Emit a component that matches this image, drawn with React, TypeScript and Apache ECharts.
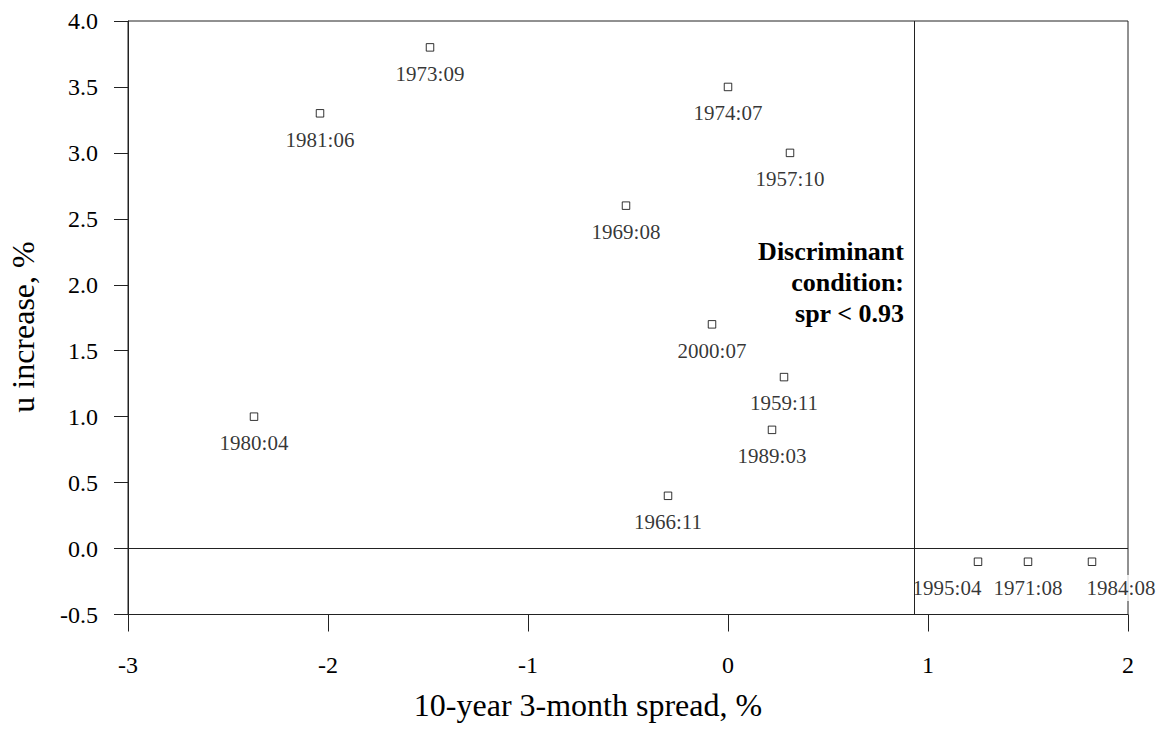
import React, { useEffect, useRef } from "react";
import * as echarts from "echarts";

// Episode labels (year:month)
const episodes = [
  "1957:10", "1959:11", "1966:11", "1969:08", "1971:08", "1973:09", "1974:07",
  "1980:04", "1981:06", "1984:08", "1989:03", "1995:04", "2000:07",
];
// 10-year 3-month spread, %
const spreadValues = [0.31, 0.28, -0.30, -0.51, 1.50, -1.49, 0.00, -2.37, -2.04, 1.82, 0.22, 1.25, -0.08];
// u increase, %
const uIncreaseValues = [3.0, 1.3, 0.4, 2.6, -0.1, 3.8, 3.5, 1.0, 3.3, -0.1, 0.9, -0.1, 1.7];

const threshold = 0.93;
const zeroLevel = 0;

const xTicks = { min: -3, max: 2, interval: 1 };
const yTicks = { min: -0.5, max: 4, interval: 0.5 };

// label nudges (styling only)
const labelShift: Record<string, number[]> = { "1995:04": [-31, 0], "1984:08": [29, 0] };

const FONT = "'Liberation Serif', 'Times New Roman', serif";
const LINE = "#222";

export default function App() {
  const ref = useRef<HTMLDivElement>(null);
  useEffect(() => {
    if (!ref.current) return;
    const chart = echarts.init(ref.current, undefined, { renderer: "svg" });
    const data = episodes.map((n, i) => {
      const item: any = { name: n, value: [spreadValues[i], uIncreaseValues[i]] };
      if (labelShift[n]) item.label = { offset: labelShift[n] };
      return item;
    });
    chart.setOption({
      animation: false,
      backgroundColor: "#fff",
      grid: {
        left: 128, right: 35, top: 21, bottom: 116.5,
        show: true, borderColor: LINE, borderWidth: 1, backgroundColor: "transparent",
      },
      xAxis: {
        type: "value", min: xTicks.min, max: xTicks.max, interval: xTicks.interval,
        axisLine: { show: true, onZero: false, lineStyle: { color: LINE, width: 1 } },
        axisTick: { show: true, length: 17, lineStyle: { color: LINE } },
        axisLabel: { margin: 38, color: "#000", fontFamily: FONT, fontSize: 24 },
        splitLine: { show: false },
      },
      yAxis: {
        type: "value", min: yTicks.min, max: yTicks.max, interval: yTicks.interval,
        axisLine: { show: true, onZero: false, lineStyle: { color: LINE, width: 1 } },
        axisTick: { show: true, length: 14, lineStyle: { color: LINE } },
        axisLabel: {
          margin: 30, color: "#000", fontFamily: FONT, fontSize: 24,
          formatter: (v: number) => v.toFixed(1),
        },
        splitLine: { show: false },
      },
      graphic: [
        {
          type: "text", x: 588, y: 705,
          style: {
            text: "10-year 3-month spread, %", fill: "#000", font: `32px ${FONT}`,
            textAlign: "center", textVerticalAlign: "middle",
          },
        },
        {
          type: "text", x: 23, y: 327, rotation: Math.PI / 2,
          style: {
            text: "u increase, %", fill: "#000", font: `32px ${FONT}`,
            textAlign: "center", textVerticalAlign: "middle",
          },
        },
        {
          type: "text", x: 904, y: 236,
          style: {
            text: "Discriminant\ncondition:\nspr < 0.93", fill: "#000",
            font: `bold 26px ${FONT}`, lineHeight: 31,
            textAlign: "right", textVerticalAlign: "top",
          },
        },
      ],
      series: [
        {
          type: "scatter", z: 1, data: [], silent: true,
          markLine: {
            silent: true, symbol: ["none", "none"], label: { show: false },
            lineStyle: { color: LINE, width: 1, type: "solid" },
            data: [{ yAxis: zeroLevel }, { xAxis: threshold }],
          },
        },
        {
          type: "scatter", z: 3, data,
          symbol: "rect", symbolSize: 7.5,
          itemStyle: { color: "#fff", borderColor: "#000", borderWidth: 1 },
          label: {
            show: true, position: "bottom", distance: 9, formatter: "{b}",
            color: "#000", fontFamily: FONT, fontSize: 21, lineHeight: 22,
            backgroundColor: "#fff", padding: [2, 1],
          },
        },
      ],
    });
    return () => chart.dispose();
  }, []);
  return (
    <div
      ref={ref}
      style={{ position: "absolute", left: 0, top: 0, width: 1163, height: 731, background: "#fff" }}
    />
  );
}
